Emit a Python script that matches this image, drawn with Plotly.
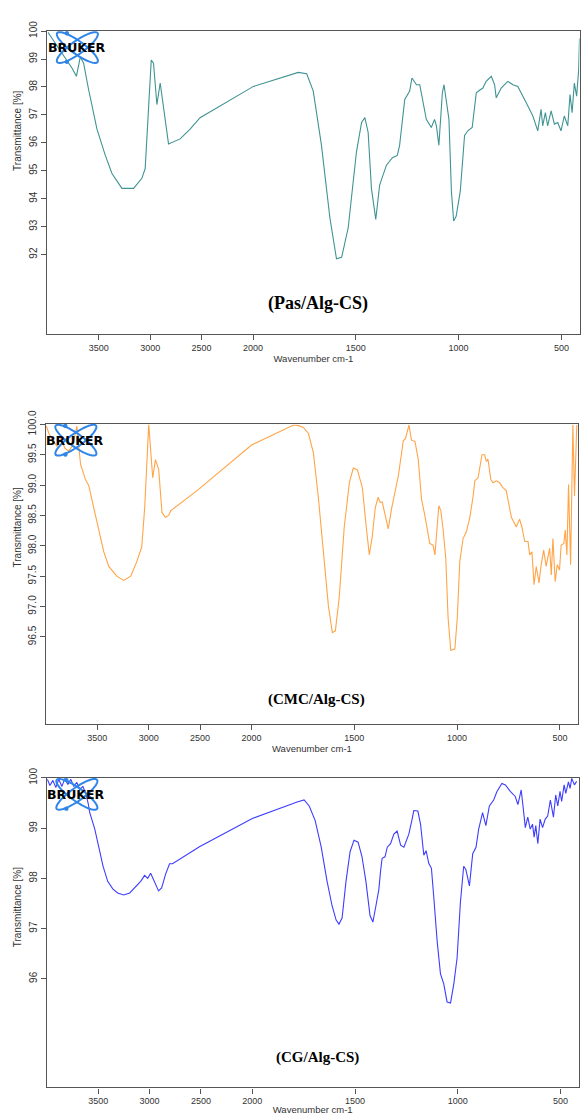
import numpy as np
import plotly.graph_objects as go

W, H = 581, 1115

# ---------------- data (wavenumber cm-1, transmittance %) ----------------
pas_wn = [3995, 3810, 3760, 3718, 3680, 3648, 3599, 3518, 3485, 3437, 3372, 3275, 3162, 3081, 3049,
          3016, 2990, 2968, 2935, 2903, 2881, 2822, 2709, 2612, 2515, 1998, 1780, 1739, 1707, 1667,
          1626, 1594, 1569, 1537, 1497, 1472, 1456, 1440, 1424, 1403, 1384, 1351, 1322, 1298, 1287,
          1262, 1238, 1227, 1205, 1189, 1157, 1133, 1117, 1108, 1096, 1079, 1071, 1060, 1047, 1035,
          1024, 1012, 992, 971, 955, 934, 914, 898, 882, 866, 841, 825, 817, 793, 777, 761, 736, 712,
          671, 639, 615, 599, 591, 578, 567, 550, 534, 518, 502, 486, 469, 458, 448, 437, 426, 416, 412]
pas_T = [99.96, 98.96, 98.67, 98.38, 99.08, 98.85, 97.90, 96.49, 96.10, 95.55, 94.90, 94.37, 94.37, 94.73, 95.08,
         97.08, 98.96, 98.85, 97.37, 98.14, 97.55, 95.96, 96.14, 96.49, 96.90, 98.02, 98.52, 98.47, 97.85, 95.91,
         93.31, 91.85, 91.90, 92.96, 95.67, 96.73, 96.90, 96.37, 94.37, 93.26, 94.49, 95.20, 95.47, 95.55, 95.91,
         97.55, 97.85, 98.32, 98.08, 98.08, 96.84, 96.55, 96.84, 96.61, 95.91, 97.79, 98.08, 97.49, 96.84, 94.26,
         93.20, 93.37, 94.26, 96.26, 96.43, 96.55, 97.79, 97.88, 97.96, 98.20, 98.38, 98.08, 97.61, 97.96, 98.08, 98.20, 98.08, 98.02,
         97.43, 96.96, 96.43, 97.20, 96.61, 97.08, 96.61, 97.14, 96.67, 96.73, 96.43, 96.96, 96.61, 97.73, 97.08, 98.14, 97.67, 98.61, 99.73]

cmc_wn = [3995, 3971, 3932, 3893, 3854, 3816, 3777, 3738, 3699, 3680, 3663, 3615, 3583, 3550, 3517,
          3485, 3437, 3388, 3311, 3243, 3175, 3116, 3068, 3039, 3019, 3000, 2961, 2935, 2903, 2871,
          2838, 2806, 2784, 2515, 2000, 1796, 1772, 1748, 1723, 1699, 1675, 1650, 1626, 1607, 1592,
          1573, 1549, 1524, 1505, 1485, 1461, 1442, 1427, 1413, 1398, 1384, 1375, 1364, 1351, 1335,
          1319, 1302, 1286, 1270, 1262, 1251, 1234, 1222, 1205, 1189, 1173, 1157, 1133, 1117, 1108,
          1089, 1079, 1068, 1055, 1044, 1031, 1011, 999, 987, 971, 955, 938, 922, 914, 898, 879, 866,
          858, 850, 836, 825, 809, 793, 777, 761, 736, 712, 696, 685, 671, 655, 647, 636, 626, 615,
          602, 591, 579, 567, 550, 542, 534, 523, 513, 502, 494, 481, 474, 466, 458, 448, 437, 429, 418]
cmc_T = [99.97, 99.85, 99.74, 99.64, 99.77, 99.61, 99.56, 99.66, 99.97, 99.61, 99.34, 99.09, 98.99, 98.74, 98.50,
         98.23, 97.90, 97.66, 97.50, 97.43, 97.50, 97.74, 97.98, 98.63, 99.45, 100.0, 99.12, 99.42, 99.26, 98.55,
         98.47, 98.50, 98.58, 98.93, 99.66, 99.99, 99.98, 99.95, 99.85, 99.53, 98.80, 97.82, 97.01, 96.57, 96.60,
         97.17, 98.31, 99.04, 99.28, 99.25, 98.96, 98.31, 97.85, 98.15, 98.63, 98.80, 98.72, 98.72, 98.53, 98.28,
         98.61, 98.88, 99.15, 99.53, 99.73, 99.77, 99.99, 99.74, 99.72, 99.42, 98.77, 98.50, 98.04, 98.01, 97.85,
         98.66, 98.58, 98.26, 97.79, 96.82, 96.28, 96.30, 96.82, 97.74, 98.12, 98.23, 98.47, 98.82, 99.07, 99.12, 99.50, 99.50,
         99.39, 99.43, 99.09, 99.04, 99.07, 99.04, 98.96, 98.91, 98.47, 98.31, 98.44, 98.31, 98.07, 98.07, 97.85, 97.90, 97.36, 97.66,
         97.39, 97.69, 97.93, 97.66, 97.96, 97.52, 98.12, 97.41, 97.69, 97.60, 98.01, 98.04, 98.26, 97.85, 99.01, 97.69, 99.99, 98.82, 99.99]

cg_wn = [3995, 3971, 3942, 3913, 3884, 3854, 3825, 3796, 3767, 3738, 3709, 3680, 3650, 3621, 3599,
         3583, 3534, 3485, 3453, 3408, 3359, 3311, 3252, 3194, 3136, 3087, 3049, 3019, 2990, 2951,
         2913, 2883, 2845, 2806, 2777, 2515, 2000, 1782, 1748, 1723, 1694, 1665, 1636, 1612, 1592,
         1578, 1563, 1544, 1524, 1505, 1485, 1466, 1447, 1427, 1413, 1398, 1384, 1375, 1368, 1354,
         1343, 1327, 1311, 1295, 1278, 1262, 1238, 1222, 1214, 1194, 1181, 1165, 1154, 1141, 1128,
         1117, 1100, 1084, 1068, 1052, 1035, 1019, 1003, 987, 971, 960, 943, 927, 911, 898, 879, 863,
         846, 825, 809, 785, 768, 744, 720, 707, 691, 676, 671, 659, 647, 636, 628, 620, 610, 599,
         587, 574, 562, 549, 534, 523, 513, 502, 494, 482, 474, 461, 453, 445, 432, 421]
cg_T = [99.97, 99.85, 99.95, 99.81, 99.97, 99.83, 99.99, 99.87, 99.97, 99.83, 99.91, 99.77, 99.83, 99.69, 99.50,
        99.31, 98.98, 98.49, 98.24, 97.94, 97.79, 97.71, 97.67, 97.71, 97.83, 97.94, 98.06, 98.00, 98.10, 97.91,
        97.75, 97.81, 98.08, 98.29, 98.29, 98.63, 99.19, 99.52, 99.56, 99.44, 99.15, 98.63, 97.94, 97.46, 97.17,
        97.09, 97.21, 97.94, 98.53, 98.76, 98.72, 98.43, 97.94, 97.26, 97.13, 97.46, 97.78, 98.17, 98.40, 98.43,
        98.62, 98.69, 98.88, 98.94, 98.66, 98.62, 98.88, 99.18, 99.35, 99.34, 99.08, 98.46, 98.55, 98.30, 98.20,
        97.65, 96.74, 96.10, 95.90, 95.54, 95.52, 95.90, 96.42, 97.52, 98.24, 98.17, 97.85, 98.49, 98.62, 98.98, 99.31, 99.05,
        99.44, 99.56, 99.73, 99.89, 99.86, 99.73, 99.63, 99.47, 99.76, 99.21, 99.01, 99.22, 98.98, 99.08, 98.82, 99.05, 98.69, 99.18,
        99.01, 99.18, 99.24, 99.56, 99.22, 99.66, 99.44, 99.73, 99.53, 99.86, 99.69, 99.92, 99.79, 99.99, 99.86, 99.93]

tick_wn = [3500, 3000, 2500, 2000, 1500, 1000, 500]
pas_yticks = [92, 93, 94, 95, 96, 97, 98, 99, 100]
cmc_yticks = [96.5, 97.0, 97.5, 98.0, 98.5, 99.0, 99.5, 100.0]
cg_yticks = [96, 97, 98, 99, 100]

panels = [
    dict(name="(Pas/Alg-CS)", wn=pas_wn, T=pas_T, color="#3f9393", yt=pas_yticks, yfmt="{:.0f}",
         yr=[89.17, 100], dom_y=(17.3, 324), dom_x=(47.5, 580.5), label_y=293, label_size=18,
         ytitle_y=118, logo=(77.5, 34)),
    dict(name="(CMC/Alg-CS)", wn=cmc_wn, T=cmc_T, color="#ffa447", yt=cmc_yticks, yfmt="{:.1f}",
         yr=[95.06, 100], dom_y=(416, 720), dom_x=(46, 579), label_y=695, label_size=15,
         ytitle_y=520, logo=(76, 432)),
    dict(name="(CG/Alg-CS)", wn=cg_wn, T=cg_T, color="#3d3dff", yt=cg_yticks, yfmt="{:.0f}",
         yr=[93.84, 100], dom_y=(774.3, 1088), dom_x=(47, 579.5), label_y=1058, label_size=15,
         ytitle_y=905, logo=(77, 791)),
]


def disp(wn):
    """Bruker OPUS style axis: region above 2000 cm-1 drawn at half scale."""
    wn = np.asarray(wn, float)
    return np.where(wn > 2000, 2000 + (wn - 2000) / 2.0, wn)


def ellipse_path(cx, cy, a, b, ang):
    t = np.linspace(0, 2 * np.pi, 72)
    ca, sa = np.cos(np.radians(ang)), np.sin(np.radians(ang))
    xs = cx + a * np.cos(t) * ca - b * np.sin(t) * sa
    ys = cy + a * np.cos(t) * sa + b * np.sin(t) * ca
    pts = [f"{x / W:.5f},{1 - y / H:.5f}" for x, y in zip(xs, ys)]
    return "M" + " L".join(pts) + " Z"


fig = go.Figure()
shapes, annotations = [], []
axis_color = "#555555"
tick_font = dict(family="Liberation Sans, Arial, sans-serif", size=9, color="#333333")

for i, p in enumerate(panels, start=1):
    xa = "x" if i == 1 else f"x{i}"
    ya = "y" if i == 1 else f"y{i}"
    fig.add_trace(go.Scatter(x=disp(p["wn"]), y=p["T"], mode="lines",
                             line=dict(color=p["color"], width=1.1),
                             xaxis=xa, yaxis=ya, showlegend=False, hoverinfo="skip"))
    x0, x1 = p["dom_x"]
    y0, y1 = p["dom_y"]
    xkey = "xaxis" if i == 1 else f"xaxis{i}"
    ykey = "yaxis" if i == 1 else f"yaxis{i}"
    fig.update_layout(**{
        xkey: dict(domain=[x0 / W, x1 / W], anchor=ya, range=[float(disp(4000)), 412],
                   tickvals=list(disp(tick_wn)), ticktext=[str(v) for v in tick_wn],
                   ticks="outside", ticklen=5, tickcolor=axis_color, tickwidth=1,
                   showline=True, linecolor=axis_color, linewidth=1.3, mirror=True,
                   showgrid=False, zeroline=False, tickfont=tick_font,
                   title=dict(text="Wavenumber cm-1", font=dict(family="Liberation Sans, Arial", size=9.5,
                                                                 color="#333333"), standoff=2)),
        ykey: dict(domain=[1 - y1 / H, 1 - y0 / H], anchor=xa, range=p["yr"],
                   tickvals=p["yt"], ticktext=[p["yfmt"].format(v) for v in p["yt"]],
                   tickangle=-90, ticks="outside", ticklen=5, tickcolor=axis_color,
                   showline=True, linecolor=axis_color, linewidth=1.3, mirror=True,
                   showgrid=False, zeroline=False, tickfont=dict(tick_font, size=10)),
    })
    # sample label
    annotations.append(dict(text=f"<b>{p['name']}</b>", xref="paper", yref="paper",
                            x=(x0 + x1) / 2 / W + 0.008, y=1 - p["label_y"] / H, showarrow=False,
                            xanchor="center", yanchor="middle",
                            font=dict(family="Liberation Serif, Times New Roman, serif",
                                      size=p["label_size"], color="#000000")))
    # y axis title
    annotations.append(dict(text="Transmittance [%]", xref="paper", yref="paper", x=17.5 / W,
                            y=1 - p["ytitle_y"] / H, showarrow=False, textangle=-90,
                            xanchor="center", yanchor="middle",
                            font=dict(family="Liberation Sans, Arial", size=10, color="#333333")))
    # BRUKER logo
    cx, cy = p["logo"]
    for ang in (36, -36):
        shapes.append(dict(type="path", xref="paper", yref="paper",
                           path=ellipse_path(cx, cy, 25, 6.5, ang),
                           line=dict(color="#2f86e8", width=2)))
    for dy in (-14.5, 14.5):
        r = 2.2
        shapes.append(dict(type="circle", xref="paper", yref="paper",
                           x0=(cx - 10.5 - r) / W, x1=(cx - 10.5 + r) / W,
                           y0=1 - (cy + dy + r) / H, y1=1 - (cy + dy - r) / H,
                           fillcolor="#2f86e8", line=dict(width=0)))
    annotations.append(dict(text="<b>BRUKER</b>", xref="paper", yref="paper",
                            x=(cx - 0.5) / W, y=1 - cy / H, showarrow=False,
                            xanchor="center", yanchor="middle",
                            font=dict(family="DejaVu Sans", size=12.5, color="#000000")))

fig.update_layout(width=W, height=H, margin=dict(l=0, r=0, t=0, b=0),
                  paper_bgcolor="white", plot_bgcolor="white",
                  shapes=shapes, annotations=annotations)

fig.write_html("out.html", config={"displayModeBar": False},
               post_script="document.body.style.margin='0';document.body.style.overflow='hidden';")
